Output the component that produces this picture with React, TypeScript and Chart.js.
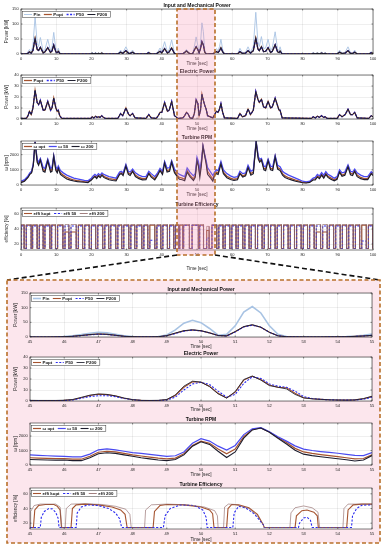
import React, { useEffect, useRef } from "react";
import { Chart, registerables } from "chart.js";
Chart.register(...registerables);

// ===================== DATA =====================
// ---- overview (0..100 s): power key points ----
const tTopP = [
  0, 1.5, 2.0, 2.4, 2.9, 3.4, 4.0, 4.6, 5.0, 5.5,
  6.3, 6.8, 7.6, 8.4, 8.8, 9.3, 9.9, 10.3, 10.6, 11.0,
  11.6, 19.8, 20.2, 20.7, 21.2, 21.6, 22.0, 22.5, 22.9, 23.4,
  24.0, 27.5, 28.3, 28.9, 29.8, 30.6, 31.0, 31.7, 32.4, 35.5,
  36.3, 37.0, 38.4, 39.0, 39.5, 40.0, 40.8, 41.6, 42.1, 42.8,
  43.6, 44.6, 46.0, 46.5, 47.0, 47.5, 48.0, 48.75, 49.25, 49.75,
  50.25, 50.6, 51.0, 51.4, 51.8, 52.2, 52.6, 53.0, 54.5, 55.0,
  55.5, 56.0, 56.4, 56.8, 57.3, 57.8, 61.5, 62.2, 62.9, 63.8,
  64.5, 65.2, 66.0, 66.7, 67.3, 67.7, 68.3, 68.9, 69.5, 70.2,
  70.9, 71.4, 72.2, 72.9, 73.3, 73.6, 74.2, 82.5, 83.0, 83.6,
  84.2, 84.8, 85.4, 85.9, 86.4, 87.0, 89.8, 90.5, 91.2, 92.1,
  92.9, 93.6, 94.2, 94.8, 95.5, 98.8, 99.5, 100,
];
const pinTop = [
  0, 0, 8, 15, 6, 30, 124, 35, 25, 55,
  8, 15, 49, 10, 22, 72, 15, 10, 19, 4,
  0, 0, 5, 1, 5, 1, 4, 1, 6, 1,
  0, 0, 13, 4, 24, 5, 4, 13, 0, 0,
  8, 0, 0, 10, 20, 8, 41, 6, 15, 47,
  3, 0, 1.5, 8, 15, 8, 1, 1.5, 25, 57,
  27, 8, 35, 104, 75, 12, 1, 0, 1, 9,
  18, 10, 25, 49, 15, 0, 0, 19, 4, 6,
  24, 6, 25, 139, 40, 25, 58, 18, 20, 49,
  12, 20, 74, 15, 12, 24, 0, 0, 5, 1,
  5, 1, 6, 1, 4, 0, 0, 13, 3, 6,
  24, 5, 4, 13, 0, 0, 8, 3,
];
const poptTop = [
  0, 0, 3, 7, 3, 12, 52, 15, 12, 22,
  4, 7, 21, 5, 10, 30, 7, 5, 9, 2,
  0, 0, 2, 0.5, 2, 0.5, 2, 0.5, 3, 0.5,
  0, 0, 6, 2, 11, 2, 2, 6, 0, 0,
  4, 0, 0, 5, 9, 4, 18, 3, 7, 20,
  1.5, 0, 1, 5, 10, 5, 0.5, 1, 13, 24,
  14, 4, 18, 41, 30, 6, 0.5, 0, 0.5, 4,
  8, 5, 11, 21, 7, 0, 0, 8, 2, 3,
  11, 3, 11, 53, 17, 11, 24, 8, 9, 21,
  5, 9, 31, 7, 5, 10, 0, 0, 2, 0.5,
  2, 0.5, 3, 0.5, 2, 0, 0, 6, 1.5, 3,
  11, 2, 2, 6, 0, 0, 4, 1.5,
];
const pelTop = [
  0.5, 0.5, 3, 7, 4, 10, 26, 15, 13, 17,
  8, 8, 16, 8, 10, 19, 10, 7, 8, 3,
  0.5, 0.5, 2, 1, 2.5, 1.5, 2, 1.5, 3, 1.5,
  0.5, 0.5, 5, 3, 10, 4, 3, 5, 1, 0.5,
  4, 1, 0.5, 3, 6, 6, 15, 7, 8, 16,
  3, 0.5, 1, 3, 6, 4.5, 1, 0.5, 5, 17.5,
  14, 3, 8, 22.5, 17, 12.5, 9, 3, 1, 4,
  7, 6, 9, 14, 6, 1, 0.5, 5, 2, 3,
  9, 4, 8, 25, 18, 15, 18, 11, 10, 16,
  10, 11, 19, 12, 8, 8, 1, 0.5, 2, 1,
  2.5, 1.5, 3, 1.5, 2, 0.5, 0.5, 4, 2, 4,
  9, 4, 4, 6, 1, 0.5, 3, 2,
];

// ---- overview: turbine speed ----
const tTopW = [
  0, 1, 2, 2.5, 3, 3.5, 4.0, 4.6, 5.0, 5.5,
  6.3, 6.8, 7.6, 8.4, 8.8, 9.3, 9.9, 10.3, 10.6, 11.2,
  12, 13, 14, 15, 16, 17, 18, 19, 20, 20.5,
  21, 21.5, 22, 22.5, 23, 23.5, 24, 25, 26, 27,
  28, 28.5, 29, 29.8, 30.5, 31, 31.7, 32.5, 33.5, 34.5,
  35.5, 36.3, 37, 38, 38.8, 39.5, 40.2, 40.8, 41.5, 42.2,
  42.8, 43.6, 44.5, 45, 45.8, 46.5, 47.2, 48, 49, 49.5,
  50, 50.4, 50.8, 51.2, 51.7, 52.2, 52.6, 53, 54, 54.5,
  55, 55.5, 56, 56.8, 57.5, 58.5, 59.5, 60.5, 61.5, 62.2,
  63, 63.8, 64.5, 65.3, 66, 66.8, 67.4, 67.8, 68.3, 69,
  69.5, 70.2, 70.9, 71.5, 72.2, 72.9, 73.6, 74.3, 75, 76,
  77, 78, 79, 80, 81, 82, 83, 83.6, 84.2, 84.8,
  85.4, 86, 86.6, 87.2, 88, 89, 89.8, 90.5, 91.2, 92,
  92.9, 93.6, 94.2, 94.8, 95.5, 96.5, 97.5, 98.5, 99.5, 100,
];
const w50Top = [
  250, 350, 600, 800, 900, 1400, 2850, 1700, 1500, 1750,
  1150, 1100, 1700, 1100, 1150, 1950, 1200, 1050, 1250, 950,
  800, 650, 550, 450, 400, 350, 300, 280, 450, 600,
  700, 600, 750, 650, 800, 700, 650, 550, 500, 450,
  850, 900, 800, 1350, 900, 850, 1050, 800, 650, 550,
  550, 900, 750, 550, 800, 1100, 900, 1550, 1100, 1150,
  1600, 1050, 800, 700, 620, 550, 1120, 850, 600, 750,
  1820, 1550, 1030, 1500, 2580, 2000, 1600, 1150, 800, 620,
  850, 1000, 950, 1550, 1000, 750, 600, 500, 550, 900,
  750, 800, 1300, 900, 1000, 2880, 1900, 1700, 1750, 1250,
  1200, 1700, 1250, 1200, 1950, 1300, 1200, 900, 780, 650,
  550, 450, 350, 250, 200, 250, 450, 500, 700, 600,
  820, 650, 880, 700, 600, 450, 550, 1000, 800, 850,
  1330, 900, 850, 1050, 800, 650, 550, 550, 880, 770,
];
const wOptTop = [
  200, 300, 550, 750, 850, 1350, 2850, 1600, 1400, 1700,
  1000, 950, 1650, 950, 1000, 1900, 1050, 900, 1150, 800,
  650, 500, 400, 330, 280, 250, 220, 200, 380, 500,
  600, 500, 650, 550, 700, 580, 520, 420, 380, 340,
  750, 800, 700, 1300, 780, 720, 950, 650, 500, 420,
  420, 800, 600, 420, 700, 1000, 780, 1500, 950, 1000,
  1550, 900, 620, 500, 450, 380, 950, 650, 400, 600,
  1650, 1350, 750, 1350, 2560, 1950, 1500, 900, 550, 380,
  700, 850, 800, 1450, 850, 580, 450, 380, 420, 800,
  600, 680, 1200, 750, 850, 2850, 1800, 1600, 1700, 1100,
  1050, 1650, 1100, 1050, 1900, 1150, 1050, 750, 600, 480,
  400, 320, 250, 180, 150, 200, 380, 400, 600, 500,
  720, 530, 780, 580, 470, 350, 450, 900, 650, 720,
  1250, 770, 720, 950, 650, 500, 420, 420, 800, 680,
];
const w200Top = [
  150, 250, 500, 700, 800, 1300, 2830, 1500, 1300, 1650,
  900, 850, 1600, 850, 900, 1880, 950, 800, 1100, 700,
  550, 400, 320, 260, 220, 200, 180, 160, 330, 450,
  550, 430, 600, 480, 650, 500, 440, 350, 300, 270,
  700, 750, 620, 1250, 700, 630, 900, 560, 420, 340,
  350, 750, 520, 340, 630, 950, 700, 1450, 850, 900,
  1500, 800, 520, 380, 350, 280, 850, 550, 300, 500,
  1600, 1250, 500, 1200, 2540, 1900, 1400, 700, 420, 250,
  650, 750, 700, 1400, 750, 480, 360, 300, 350, 750,
  520, 600, 1150, 650, 750, 2830, 1700, 1500, 1650, 1000,
  950, 1600, 1000, 950, 1850, 1050, 950, 650, 500, 400,
  320, 250, 200, 150, 130, 170, 330, 330, 530, 420,
  650, 450, 700, 500, 380, 280, 380, 850, 570, 640,
  1200, 680, 630, 900, 550, 420, 350, 350, 750, 620,
];

// ---- overview: efficiency humps (rise / fall times, plateau values) ----
const effOn = [
  0.0, 1.5, 3.3, 5.2, 6.8, 8.7, 10.4, 12.5, 14.2, 16.3,
  18.1, 20.0, 21.8, 23.8, 25.5, 27.5, 29.2, 31.2, 32.9, 34.9,
  36.6, 38.6, 40.3, 42.2, 43.9, 45.1, 46.2, 48.6, 50.75, 52.75,
  54.25, 56.2, 58.0, 59.9, 61.7, 63.6, 65.4, 67.2, 69.1, 70.9,
  72.8, 74.6, 76.5, 78.3, 80.2, 82.0, 83.9, 85.7, 87.6, 89.4,
  91.3, 93.1, 95.0, 96.8, 98.7,
];
const effOff = [
  0.9, 2.9, 4.6, 6.3, 8.2, 9.8, 11.9, 13.6, 15.7, 17.5,
  19.4, 21.2, 23.2, 24.9, 26.9, 28.6, 30.6, 32.3, 34.3, 36.0,
  38.0, 39.7, 41.6, 43.4, 44.8, 45.9, 47.85, 50.4, 51.85, 53.45,
  55.6, 57.4, 59.3, 61.1, 63.0, 64.8, 66.6, 68.5, 70.3, 72.2,
  74.0, 75.9, 77.7, 79.6, 81.4, 83.3, 85.1, 87.0, 88.8, 90.7,
  92.5, 94.4, 96.2, 98.1, 99.9,
];
const effCapKopt = [
  45, 45, 45, 45, 45, 45, 45, 36, 36, 45,
  45, 45, 45, 45, 45, 45, 45, 45, 45, 45,
  45, 45, 45, 45, 45, 45, 45, 45, 45, 38,
  45, 45, 45, 45, 45, 45, 45, 45, 45, 45,
  45, 45, 45, 45, 45, 45, 36, 36, 45, 45,
  45, 45, 45, 45, 45,
];
const effCap50 = [
  44, 44, 44, 44, 44, 44, 44, 44, 44, 44,
  44, 44, 44, 44, 44, 44, 44, 44, 44, 44,
  25, 44, 44, 44, 44, 40, 45, 45, 44, 28,
  45, 44, 44, 44, 44, 44, 44, 44, 44, 44,
  44, 44, 44, 44, 44, 44, 44, 44, 44, 44,
  44, 44, 44, 24, 44,
];
const effCap200 = [
  46, 46, 46, 46, 46, 46, 46, 46, 46, 46,
  46, 46, 46, 46, 46, 46, 46, 46, 46, 46,
  46, 46, 46, 46, 46, 46, 46, 46, 46, 43.5,
  46, 46, 46, 46, 46, 46, 46, 46, 46, 46,
  46, 46, 46, 46, 46, 46, 46, 46, 46, 46,
  46, 46, 46, 46, 46,
];
const effFloor = 14;

// ---- zoom (45..55 s) ----
const tZ = [
  45, 45.25, 45.5, 45.75, 46, 46.25, 46.5, 46.75, 47, 47.25,
  47.5, 47.75, 48, 48.25, 48.5, 48.75, 49, 49.25, 49.5, 49.75,
  50, 50.25, 50.5, 50.75, 51, 51.25, 51.5, 51.75, 52, 52.25,
  52.5, 52.75, 53, 53.25, 53.5, 53.75, 54, 54.25, 54.5, 54.75, 55,
];
const pinZ = [
  0.3, 0.2, 0.2, 0.5, 1.5, 4, 8, 13, 16, 14,
  9, 4, 1.5, 0.5, 0.5, 1.5, 7, 24, 47, 57,
  49, 29, 6, 9, 38, 85, 104, 82, 38, 9,
  1.5, 0.5, 0.3, 0.3, 0.3, 0.5, 0.8, 1.5, 3, 6, 10,
];
const poptZ = [
  0.2, 0.1, 0.1, 0.3, 1, 2.5, 5, 8, 10, 9,
  6, 2.5, 1, 0.3, 0.3, 1, 4.5, 13, 21, 24,
  21, 14, 5, 4, 18, 35, 41, 33, 16, 4,
  0.8, 0.3, 0.2, 0.2, 0.2, 0.3, 0.5, 1, 2, 3.5, 5.5,
];
const p50Z = [
  0.2, 0.1, 0.1, 0.3, 0.8, 2, 4.5, 7.5, 9.5, 8.5,
  5.5, 2.3, 0.8, 0.3, 0.3, 0.8, 4, 12, 20, 23.5,
  21, 14, 5, 3.5, 17, 34, 40.5, 33, 16, 4,
  0.8, 0.3, 0.2, 0.2, 0.2, 0.3, 0.5, 1, 2, 3.5, 5.5,
];
const p200Z = [
  0.2, 0.1, 0.1, 0.3, 1, 2.6, 5.2, 8.3, 10.3, 9.2,
  6, 2.6, 1, 0.3, 0.3, 1, 4.8, 13.5, 21.5, 24.5,
  21.5, 14, 5, 4, 18.5, 35.5, 42, 33.5, 16, 4,
  0.8, 0.3, 0.2, 0.2, 0.2, 0.3, 0.5, 1, 2, 3.6, 5.6,
];
const peOptZ = [
  0.5, 0.5, 0.4, 0.4, 0.6, 1.2, 3, 5, 6.2, 5.8,
  4.5, 2.5, 1.2, 0.6, 0.4, 0.5, 1.2, 5, 12.5, 17.5,
  17, 13.5, 7, 2.8, 8, 19, 22.5, 19.5, 14.5, 12.5,
  12, 7, 3, 2, 1.5, 1.1, 0.9, 0.8, 1, 2, 4,
];
const pe50Z = [
  0.4, 0.4, 0.3, 0.3, 0.4, 0.9, 2.5, 4, 4.8, 4.8,
  4, 2.3, 1.1, 0.5, 0.3, 0.4, 0.9, 3.5, 10, 15.5,
  17, 15, 9, 3.5, 6, 16, 22, 20.5, 15.5, 13.5,
  12.5, 9, 4, 2.2, 1.5, 1.1, 0.9, 0.8, 0.9, 1.6, 3.5,
];
const pe200Z = [
  0.6, 0.5, 0.5, 0.5, 0.7, 1.4, 3.3, 5.3, 6.4, 6,
  4.7, 2.7, 1.3, 0.6, 0.5, 0.6, 1.4, 5.5, 13.5, 18,
  17.2, 13, 6.5, 2.6, 8.5, 19.5, 22.7, 19, 14, 12.5,
  11, 6, 2.8, 2, 1.5, 1.1, 0.9, 0.8, 1, 2.2, 4.3,
];
const w50Z = [
  700, 670, 640, 620, 600, 560, 560, 750, 1050, 1120,
  1050, 950, 860, 800, 730, 660, 600, 640, 900, 1500,
  1820, 1650, 1300, 1030, 1350, 2100, 2500, 2580, 2300, 1950,
  1650, 1320, 1100, 1000, 930, 870, 810, 740, 660, 650, 850,
];
const wOptZ = [
  500, 480, 460, 450, 440, 400, 400, 600, 880, 950,
  900, 800, 700, 620, 550, 470, 420, 480, 780, 1350,
  1650, 1500, 1100, 780, 1100, 1950, 2450, 2560, 2280, 1900,
  1550, 1150, 900, 800, 720, 650, 580, 500, 420, 450, 700,
];
const w200Z = [
  380, 360, 350, 340, 340, 300, 300, 500, 780, 850,
  800, 700, 600, 500, 420, 350, 300, 380, 700, 1300,
  1600, 1420, 950, 520, 900, 1850, 2420, 2550, 2260, 1850,
  1450, 1020, 750, 650, 570, 500, 430, 360, 280, 350, 650,
];
const effKoptZ: [number, number][] = [
  [45, 14], [45.1, 14], [45.14, 38], [45.25, 44], [45.45, 45.5], [45.7, 45.5], [45.8, 43], [45.88, 38], [45.92, 14],
  [46.2, 14], [46.24, 40], [46.35, 45], [46.6, 46], [47.0, 45], [47.4, 42], [47.65, 38], [47.78, 32], [47.84, 14],
  [48.6, 14], [48.64, 36], [48.8, 44], [49.0, 45.5], [49.5, 45], [50.0, 42], [50.25, 38], [50.34, 33], [50.38, 14],
  [50.75, 14], [50.79, 40], [50.9, 45.5], [51.1, 45], [51.4, 41], [51.65, 32], [51.82, 18], [51.85, 14],
  [52.75, 14], [52.79, 30], [52.95, 37], [53.1, 38], [53.3, 35], [53.4, 30], [53.43, 14],
  [54.26, 14], [54.3, 38], [54.45, 45], [54.7, 46], [55, 46],
];
const eff50Z: [number, number][] = [
  [45, 14], [45.3, 14], [45.33, 28], [45.42, 36], [45.55, 40], [45.65, 39.5], [45.75, 35], [45.82, 27], [45.85, 14],
  [46.35, 14], [46.38, 34], [46.5, 42], [46.7, 45], [47.0, 44], [47.3, 40], [47.5, 34], [47.62, 26], [47.68, 14],
  [48.9, 14], [48.95, 30], [49.1, 40], [49.4, 45], [49.8, 44], [50.05, 38], [50.15, 28], [50.18, 14],
  [50.93, 14], [50.97, 34], [51.1, 43], [51.3, 41], [51.55, 33], [51.82, 18], [51.85, 14],
  [52.85, 14], [52.88, 20], [53.0, 27], [53.1, 28], [53.2, 24], [53.25, 14],
  [54.4, 14], [54.43, 30], [54.55, 40], [54.7, 44.5], [55, 45],
];
const eff200Z: [number, number][] = [
  [45, 14], [45.02, 36], [45.12, 44], [45.3, 46], [45.75, 46], [45.88, 42], [45.93, 14],
  [46.03, 14], [46.06, 40], [46.2, 46], [46.6, 46.5], [47.1, 45.5], [47.5, 43], [47.8, 39], [47.92, 32], [47.96, 14],
  [48.35, 14], [48.38, 38], [48.55, 45], [49.0, 46], [49.6, 45], [50.1, 42], [50.4, 37], [50.48, 30], [50.5, 14],
  [50.66, 14], [50.69, 42], [50.8, 46], [51.0, 45.5], [51.4, 40], [51.65, 30], [51.82, 18], [51.85, 14],
  [52.6, 14], [52.63, 34], [52.75, 41], [53.0, 43.5], [53.25, 41], [53.42, 35], [53.47, 14],
  [54.15, 14], [54.18, 40], [54.3, 46], [55, 46],
];

const ticksPower = [0, 50, 100, 150];
const ticksElec = [0, 10, 20, 30, 40];
const ticksRpm = [0, 1000, 2000];
const ticksEff = [20, 40, 60];

// ===================== HELPERS =====================
type Pt = { x: number; y: number };
const zip = (t: number[], v: number[]): Pt[] => t.map((x, i) => ({ x, y: v[i] }));
const pairs = (a: [number, number][]): Pt[] => a.map(([x, y]) => ({ x, y }));
const humps = (on: number[], off: number[], cap: number[], floor: number): Pt[] => {
  const out: Pt[] = [];
  on.forEach((t0, i) => {
    out.push({ x: t0, y: floor }, { x: t0, y: cap[i] }, { x: off[i], y: cap[i] }, { x: off[i], y: floor });
  });
  return out;
};

const FONT = "'Liberation Sans', Arial, Helvetica, sans-serif";
const C_PIN = "#a8c3e3";
const C_OPT = "#a5532f";
const C_50 = "#2b2bf0";
const C_W50 = "#4a4af0";
const C_200 = "#1c1c2c";
const C_E200 = "#8a5f5f";

type Series = { label: string; pts: Pt[]; color: string; width: number; dash?: number[] };
type Panel = {
  key: string;
  left: number; top: number; right: number; bottom: number;
  xMin: number; xMax: number; xStep: number;
  yMin: number; yMax: number; yTicks: number[];
  title: string; yLabel: string; yLabelX: number; xLabelDy: number;
  series: Series[];
};

const TL = 21, TR = 373, BL = 30, BR = 372;

const mechSeries = (pin: Pt[], popt: Pt[], p50: Pt[], p200: Pt[], k: number, pinW: number): Series[] => [
  { label: "Pin", pts: pin, color: C_PIN, width: pinW },
  { label: "Popt", pts: popt, color: C_OPT, width: 1.1 * k },
  { label: "P50", pts: p50, color: C_50, width: 1.1 * k, dash: [2, 1.5] },
  { label: "P200", pts: p200, color: C_200, width: 0.9 * k },
];
const elecSeries = (a: Pt[], b: Pt[], c: Pt[], k: number): Series[] => [
  { label: "Popt", pts: a, color: C_OPT, width: 1.1 * k },
  { label: "P50", pts: b, color: C_50, width: 1.1 * k, dash: [2, 1.5] },
  { label: "P200", pts: c, color: C_200, width: 0.85 * k },
];
const rpmSeries = (a: Pt[], b: Pt[], c: Pt[], k: number): Series[] => [
  { label: "ω opt", pts: a, color: C_OPT, width: 1.1 * k },
  { label: "ω 50", pts: b, color: C_W50, width: 1.1 * k },
  { label: "ω 200", pts: c, color: C_200, width: 1.0 * k },
];
const effSeries = (a: Pt[], b: Pt[], c: Pt[]): Series[] => [
  { label: "effi kopt", pts: a, color: C_OPT, width: 1.1 },
  { label: "effi 50", pts: b, color: C_50, width: 1.1, dash: [2.2, 1.6] },
  { label: "effi 200", pts: c, color: C_E200, width: 0.6 },
];

const topPel = zip(tTopP, pelTop);
const topPopt = zip(tTopP, poptTop);

const PANELS: Panel[] = [
  {
    key: "p1", left: TL, top: 9, right: TR, bottom: 54, xMin: 0, xMax: 100, xStep: 10,
    yMin: 0, yMax: 150, yTicks: ticksPower, title: "Input and Mechanical Power", yLabel: "Power [kW]", yLabelX: 7, xLabelDy: 9.5,
    series: mechSeries(zip(tTopP, pinTop), topPopt, topPopt, topPopt, 1.15, 0.9),
  },
  {
    key: "p2", left: TL, top: 75, right: TR, bottom: 119, xMin: 0, xMax: 100, xStep: 10,
    yMin: 0, yMax: 40, yTicks: ticksElec, title: "Electric Power", yLabel: "Power [kW]", yLabelX: 7, xLabelDy: 9.5,
    series: elecSeries(topPel, topPel, topPel, 1.15),
  },
  {
    key: "p3", left: TL, top: 141, right: TR, bottom: 185, xMin: 0, xMax: 100, xStep: 10,
    yMin: 0, yMax: 2900, yTicks: ticksRpm, title: "Turbine RPM", yLabel: "ω [rpm]", yLabelX: 7, xLabelDy: 9.5,
    series: rpmSeries(zip(tTopW, wOptTop), zip(tTopW, w50Top), zip(tTopW, w200Top), 1.15),
  },
  {
    key: "p4", left: TL, top: 208, right: TR, bottom: 250, xMin: 0, xMax: 100, xStep: 10,
    yMin: 12, yMax: 68, yTicks: ticksEff, title: "Turbine Efficiency", yLabel: "efficiency [%]", yLabelX: 7, xLabelDy: 19,
    series: effSeries(
      humps(effOn, effOff, effCapKopt, effFloor),
      humps(effOn, effOff, effCap50, effFloor),
      humps(effOn, effOff, effCap200, effFloor)
    ),
  },
  {
    key: "p5", left: BL, top: 293, right: BR, bottom: 337, xMin: 45, xMax: 55, xStep: 1,
    yMin: 0, yMax: 150, yTicks: ticksPower, title: "Input and Mechanical Power", yLabel: "Power [kW]", yLabelX: 16, xLabelDy: 10,
    series: mechSeries(zip(tZ, pinZ), zip(tZ, poptZ), zip(tZ, p50Z), zip(tZ, p200Z), 1.0, 1.6),
  },
  {
    key: "p6", left: BL, top: 357, right: BR, bottom: 401, xMin: 45, xMax: 55, xStep: 1,
    yMin: 0, yMax: 40, yTicks: ticksElec, title: "Electric Power", yLabel: "Power [kW]", yLabelX: 16, xLabelDy: 8.5,
    series: elecSeries(zip(tZ, peOptZ), zip(tZ, pe50Z), zip(tZ, pe200Z), 1.0),
  },
  {
    key: "p7", left: BL, top: 423, right: BR, bottom: 465, xMin: 45, xMax: 55, xStep: 1,
    yMin: 0, yMax: 2900, yTicks: ticksRpm, title: "Turbine RPM", yLabel: "ω [rpm]", yLabelX: 16, xLabelDy: 10,
    series: rpmSeries(zip(tZ, wOptZ), zip(tZ, w50Z), zip(tZ, w200Z), 1.1),
  },
  {
    key: "p8", left: BL, top: 488, right: BR, bottom: 529, xMin: 45, xMax: 55, xStep: 1,
    yMin: 12, yMax: 68, yTicks: ticksEff, title: "Turbine Efficiency", yLabel: "efficiency [%]", yLabelX: 16, xLabelDy: 10.5,
    series: effSeries(pairs(effKoptZ), pairs(eff50Z), pairs(eff200Z)),
  },
];

const PAD_TOP = 9;
const AXIS_H = 14;
const EXTRA_BOTTOM = 10;
const W = 385;

function PanelChart({ p }: { p: Panel }) {
  const ref = useRef<HTMLCanvasElement>(null);
  const cTop = p.top - PAD_TOP;
  const cH = p.bottom - p.top + PAD_TOP + AXIS_H + EXTRA_BOTTOM;
  useEffect(() => {
    const canvas = ref.current;
    if (!canvas) return;
    const frame = {
      id: "frame_" + p.key,
      beforeDraw(chart: any) {
        const { ctx, chartArea: a } = chart;
        ctx.save();
        ctx.fillStyle = "#ffffff";
        ctx.fillRect(a.left, a.top, a.right - a.left, a.bottom - a.top);
        ctx.restore();
      },
      afterDraw(chart: any) {
        const { ctx, chartArea: a, scales } = chart;
        ctx.save();
        ctx.strokeStyle = "#262626";
        ctx.lineWidth = 0.6;
        ctx.setLineDash([]);
        ctx.strokeRect(a.left, a.top, a.right - a.left, a.bottom - a.top);
        ctx.lineWidth = 0.5;
        ctx.beginPath();
        scales.x.ticks.forEach((t: any) => {
          const x = scales.x.getPixelForValue(t.value);
          ctx.moveTo(x, a.bottom); ctx.lineTo(x, a.bottom - 1.5);
          ctx.moveTo(x, a.top); ctx.lineTo(x, a.top + 1.5);
        });
        scales.y.ticks.forEach((t: any) => {
          const y = scales.y.getPixelForValue(t.value);
          ctx.moveTo(a.left, y); ctx.lineTo(a.left + 1.5, y);
          ctx.moveTo(a.right, y); ctx.lineTo(a.right - 1.5, y);
        });
        ctx.stroke();
        ctx.fillStyle = "#111";
        ctx.textAlign = "center";
        ctx.textBaseline = "middle";
        ctx.font = `bold 5px ${FONT}`;
        ctx.fillText(p.title, (a.left + a.right) / 2, a.top - 3.6);
        ctx.font = `4.6px ${FONT}`;
        ctx.fillStyle = "#222";
        ctx.fillText("Time [sec]", (a.left + a.right) / 2, a.bottom + p.xLabelDy);
        ctx.save();
        ctx.translate(p.yLabelX, (a.top + a.bottom) / 2);
        ctx.rotate(-Math.PI / 2);
        ctx.font = `4.6px ${FONT}`;
        ctx.fillText(p.yLabel, 0, 0);
        ctx.restore();
        ctx.font = `bold 4.4px ${FONT}`;
        const lineLen = 8, g1 = 1.5, g2 = 3.5, padL = 1.5, h = 6;
        let w = padL;
        p.series.forEach((s) => { w += lineLen + g1 + ctx.measureText(s.label).width + g2; });
        const x0 = a.left + 1.5, y0 = a.top + 2.5;
        ctx.fillStyle = "#ffffff";
        ctx.fillRect(x0, y0, w, h);
        ctx.strokeStyle = "#333";
        ctx.lineWidth = 0.5;
        ctx.strokeRect(x0, y0, w, h);
        let x = x0 + padL;
        p.series.forEach((s) => {
          ctx.beginPath();
          ctx.setLineDash(s.dash || []);
          ctx.strokeStyle = s.color;
          ctx.lineWidth = Math.max(s.width, 0.8);
          ctx.moveTo(x, y0 + h / 2);
          ctx.lineTo(x + lineLen, y0 + h / 2);
          ctx.stroke();
          ctx.setLineDash([]);
          x += lineLen + g1;
          ctx.fillStyle = "#111";
          ctx.textAlign = "left";
          ctx.textBaseline = "middle";
          ctx.fillText(s.label, x, y0 + h / 2 + 0.3);
          x += ctx.measureText(s.label).width + g2;
        });
        ctx.restore();
      },
    };
    const tickFont = { size: 4, family: FONT };
    const n = p.series.length;
    const chart = new Chart(canvas, {
      type: "line",
      data: {
        datasets: p.series.map((s, i) => ({
          label: s.label,
          data: s.pts,
          borderColor: s.color,
          borderWidth: s.width,
          borderDash: s.dash || [],
          pointRadius: 0,
          tension: 0,
          fill: false,
          order: n - i,
        })),
      },
      options: {
        animation: false,
        responsive: false,
        maintainAspectRatio: false,
        events: [],
        layout: { padding: { top: PAD_TOP, left: 0, right: W - p.right, bottom: EXTRA_BOTTOM } },
        plugins: { legend: { display: false }, title: { display: false }, tooltip: { enabled: false } },
        scales: {
          x: {
            type: "linear",
            min: p.xMin,
            max: p.xMax,
            ticks: {
              stepSize: p.xStep,
              font: tickFont,
              color: "#222",
              padding: 2.5,
              maxRotation: 0,
              autoSkip: false,
              callback: (v: any) => String(v),
            },
            grid: { color: "rgba(0,0,0,0.13)", lineWidth: 0.5, drawTicks: false },
            border: { display: false },
            afterFit: (s: any) => {
              s.height = AXIS_H;
              s.paddingLeft = 0; s.paddingRight = 0; s.paddingTop = 0; s.paddingBottom = 0;
            },
          },
          y: {
            type: "linear",
            min: p.yMin,
            max: p.yMax,
            afterBuildTicks: (s: any) => { s.ticks = p.yTicks.map((v) => ({ value: v })); },
            ticks: {
              font: tickFont,
              color: "#222",
              padding: 2.3,
              callback: (v: any) => String(v),
            },
            grid: { color: "rgba(0,0,0,0.13)", lineWidth: 0.5, drawTicks: false },
            border: { display: false },
            afterFit: (s: any) => {
              s.width = p.left;
              s.paddingLeft = 0; s.paddingRight = 0; s.paddingTop = 0; s.paddingBottom = 0;
            },
          },
        },
      } as any,
      plugins: [frame],
    });
    return () => chart.destroy();
  }, []);
  return (
    <canvas
      ref={ref}
      width={W}
      height={cH}
      style={{ position: "absolute", left: 0, top: cTop, width: W, height: cH }}
    />
  );
}

export default function App() {
  const orange = "#b8702a";
  return (
    <div style={{ position: "absolute", left: 0, top: 0, width: 385, height: 550, background: "#ffffff", overflow: "hidden" }}>
      <svg width={385} height={550} style={{ position: "absolute", left: 0, top: 0 }}>
        <rect x={7} y={280} width={373} height={263} fill="#fce6ed" />
      </svg>
      {PANELS.map((p) => (
        <PanelChart key={p.key} p={p} />
      ))}
      <svg width={385} height={550} style={{ position: "absolute", left: 0, top: 0 }}>
        <rect x={177} y={9} width={38} height={246} fill="rgba(248,140,175,0.26)" stroke={orange} strokeWidth={1.6} strokeDasharray="4 2.5" />
        <line x1={177} y1={255} x2={7} y2={280} stroke="#111" strokeWidth={1.6} strokeDasharray="5 3" />
        <line x1={215} y1={255} x2={380} y2={280} stroke="#111" strokeWidth={1.6} strokeDasharray="5 3" />
        <rect x={7} y={280} width={373} height={263} fill="none" stroke={orange} strokeWidth={1.6} strokeDasharray="4 2.5" />
      </svg>
    </div>
  );
}
